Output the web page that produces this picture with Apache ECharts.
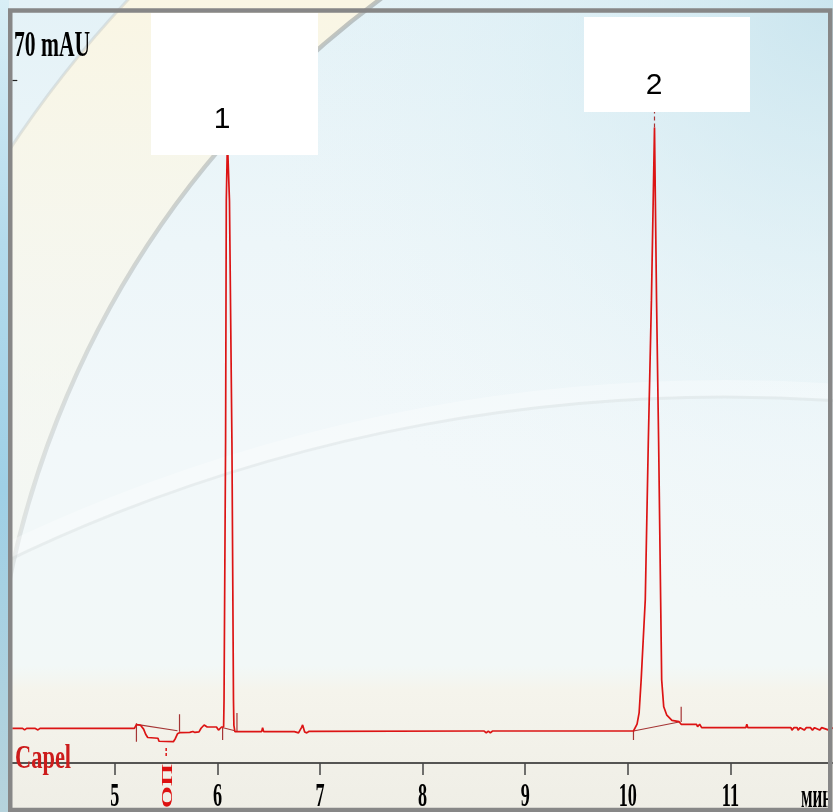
<!DOCTYPE html>
<html>
<head>
<meta charset="utf-8">
<script src="https://cdn.jsdelivr.net/npm/echarts@6/dist/echarts.min.js"></script>
<style>
  html, body { margin: 0; padding: 0; background: #ffffff; }
  #chart { width: 833px; height: 812px; }
</style>
</head>
<body>
<div id="chart"></div>
<script>
// Chromatogram trace: retention time (min) and detector signal (mAU)
const traceTime = [
  4.00, 4.03, 4.04, 4.06, 4.10, 4.12, 4.14, 4.19, 4.20, 4.22, 4.25, 4.27, 5.19,
  5.20, 5.21, 5.25, 5.28, 5.30, 5.32, 5.42, 5.43, 5.57, 5.59, 5.61, 5.63,
  5.73, 5.76, 5.78, 5.82, 5.84, 5.87, 5.90, 5.99, 6.01, 6.04, 6.06,
  6.064, 6.079, 6.086, 6.097, 6.117, 6.141, 6.156, 6.16, 6.17,
  6.43, 6.44, 6.45, 6.75, 6.76, 6.79, 6.82, 6.83, 6.85, 6.87, 6.89,
  8.57, 8.58, 8.60, 8.62, 8.64, 8.66, 8.68, 10.055,
  10.09, 10.11, 10.13, 10.17, 10.20, 10.23, 10.26, 10.28, 10.30, 10.32, 10.33,
  10.35, 10.38, 10.43, 10.50, 10.52, 10.67, 10.68, 10.70, 10.72,
  11.15, 11.16, 11.17, 11.59, 11.60, 11.62, 11.65, 11.66, 11.68, 11.72, 11.74,
  11.78, 11.80, 11.82, 11.87, 11.89, 11.96, 12.00
];
const traceSignal = [
  0.29, 0.29, 0.12, 0.29, 0.29, 0.12, 0.29, 0.29, 0.12, 0.29, 0.12, 0.29, 0.29,
  0.45, 0.68, 0.62, 0.20, -0.35, -0.70, -0.78, -1.10, -1.15, -0.80, -0.30, -0.18,
  -0.15, -0.05, -0.15, -0.10, 0.30, 0.65, 0.43, 0.43, 0.10, 0.43, 0.45,
  3.3, 31.0, 57.0, 63.5, 57.0, 31.0, 3.3, 0.60, -0.07,
  -0.07, 0.35, -0.07, -0.07, -0.20, -0.20, 0.40, 0.65, -0.10, -0.20, -0.05,
  0.00, -0.20, 0.00, -0.20, 0.00, -0.20, 0.00, 0.00,
  0.75, 1.94, 5.5, 14.1, 31.3, 46.3, 64.9, 46.3, 31.3, 14.1, 5.5,
  2.6, 1.7, 1.15, 1.0, 0.72, 0.72, 0.46, 0.72, 0.36,
  0.36, 0.72, 0.36, 0.36, 0.10, 0.36, 0.36, 0.10, 0.36, 0.10, 0.36,
  0.36, 0.10, 0.36, 0.10, 0.36, 0.10, 0.36
];

// Integration baselines drawn under the peaks
const intStartTime   = [5.21, 6.055, 10.055];
const intStartSignal = [0.72, 0.35, 0.00];
const intEndTime     = [5.61, 6.17, 10.50];
const intEndSignal   = [0.03, 0.03, 0.97];

// Peak start / end marks
const markTime   = [5.21, 5.63, 6.05, 6.19, 10.055, 10.52];
const markTop    = [0.83, 1.80, 0.43, 1.94, 0.00, 2.60];
const markBottom = [-1.15, -0.08, -0.97, 0.00, -0.97, 0.97];

// Numbered peaks
const peakNames   = ['1', '2'];
const peakTimes   = [6.097, 10.26];
const peakHeights = [63.5, 64.9];

// System peak marker (ОП)
const opTime = [5.50];
const opFrom = [-1.83];
const opTo   = [-2.90];

// Axis ticks
const xTickValues = [5, 6, 7, 8, 9, 10, 11];
const xTickLabels = ['5', '6', '7', '8', '9', '10', '11'];
const yTickValues = [70];
const yTickLabels = ['70 mAU'];

const chart = echarts.init(document.getElementById('chart'), null, { renderer: 'canvas', width: 833, height: 812 });

const RED = '#dc1414';
const DARK_RED = '#a53535';

const series = [{
  type: 'line',
  data: traceTime.map((t, i) => [t, traceSignal[i]]),
  symbol: 'none',
  lineStyle: { color: RED, width: 1.7 },
  z: 5,
  silent: true
}];
intStartTime.forEach((t, i) => {
  series.push({
    type: 'line', symbol: 'none', silent: true, z: 4,
    data: [[t, intStartSignal[i]], [intEndTime[i], intEndSignal[i]]],
    lineStyle: { color: DARK_RED, width: 1.2 }
  });
});
markTime.forEach((t, i) => {
  series.push({
    type: 'line', symbol: 'none', silent: true, z: 4,
    data: [[t, markTop[i]], [t, markBottom[i]]],
    lineStyle: { color: DARK_RED, width: 1.2 }
  });
});
peakTimes.forEach((t, i) => {
  series.push({
    type: 'line', symbol: 'none', silent: true, z: 4,
    data: [[t, peakHeights[i]], [t, 72]],
    lineStyle: { color: DARK_RED, width: 1.2, type: [4, 3] }
  });
});
opTime.forEach((t, i) => {
  series.push({
    type: 'line', symbol: 'none', silent: true, z: 4,
    data: [[t, opFrom[i]], [t, opTo[i]]],
    lineStyle: { color: RED, width: 1.5, type: [3, 2] }
  });
});

chart.setOption({
  animation: false,
  backgroundColor: 'transparent',
  grid: { left: 12.3, top: 13, width: 821.4, height: 750 },
  xAxis: {
    type: 'value', min: 4, max: 12,
    axisLine: { show: true, onZero: false, lineStyle: { color: '#222222', width: 1.5 } },
    axisTick: { show: true, customValues: xTickValues, length: 12, inside: false, lineStyle: { color: '#444444', width: 1.5 } },
    axisLabel: { show: false },
    splitLine: { show: false }
  },
  yAxis: {
    type: 'value', min: -3.44, max: 77.2,
    axisLine: { show: false },
    axisTick: { show: true, customValues: yTickValues, length: 5, inside: true, lineStyle: { color: '#222222', width: 1.2 } },
    axisLabel: { show: false },
    splitLine: { show: false }
  },
  series: series
});

// Text placed from the axis scales
const serif = '"Liberation Serif", "Times New Roman", serif';
const graphics = [];

// Background wash
graphics.push({
  type: 'rect', z: -20, silent: true,
  shape: { x: 0, y: 0, width: 833, height: 812 },
  style: {
    fill: {
      type: 'linear', x: 0, y: 0, x2: 0, y2: 812, global: true,
      colorStops: [
        { offset: 0, color: '#e4f2f7' },
        { offset: 0.3, color: '#edf6f9' },
        { offset: 0.55, color: '#f2f8fa' },
        { offset: 0.82, color: '#f2f8f7' },
        { offset: 0.85, color: '#f5f4ec' },
        { offset: 1, color: '#efeee6' }
      ]
    }
  }
});
graphics.push({
  type: 'rect', z: -19, silent: true,
  shape: { x: 0, y: 0, width: 833, height: 812 },
  style: {
    fill: {
      type: 'radial', x: 833, y: 0, r: 620, global: true,
      colorStops: [
        { offset: 0, color: 'rgba(198,227,237,0.85)' },
        { offset: 0.5, color: 'rgba(214,236,243,0.35)' },
        { offset: 1, color: 'rgba(235,245,248,0)' }
      ]
    }
  }
});
// Cream wedge between the two large arcs
graphics.push({
  type: 'ring', z: -18, silent: true,
  shape: { cx: 952, cy: 773, r: 1130, r0: 962 },
  style: {
    fill: {
      type: 'linear', x: 0, y: 0, x2: 0, y2: 640, global: true,
      colorStops: [
        { offset: 0, color: 'rgba(250,246,228,1)' },
        { offset: 0.5, color: 'rgba(248,247,236,0.7)' },
        { offset: 1, color: 'rgba(244,246,238,0.4)' }
      ]
    }
  }
});
graphics.push({
  type: 'circle', z: -17, silent: true,
  shape: { cx: 952, cy: 773, r: 1130 },
  style: { fill: 'none', stroke: 'rgba(180,186,186,0.35)', lineWidth: 3 }
});
graphics.push({
  type: 'circle', z: -17, silent: true,
  shape: { cx: 952, cy: 773, r: 962 },
  style: {
    fill: 'none', lineWidth: 4.5,
    stroke: {
      type: 'linear', x: 0, y: 0, x2: 0, y2: 600, global: true,
      colorStops: [
        { offset: 0, color: 'rgba(160,166,166,0.65)' },
        { offset: 0.4, color: 'rgba(170,176,176,0.5)' },
        { offset: 1, color: 'rgba(185,190,190,0.3)' }
      ]
    }
  }
});
// Soft light band across the middle
graphics.push({
  type: 'circle', z: -17, silent: true,
  shape: { cx: 725, cy: 2052, r: 1664 },
  style: { fill: 'none', stroke: 'rgba(255,255,255,0.3)', lineWidth: 16 }
});
graphics.push({
  type: 'circle', z: -16, silent: true,
  shape: { cx: 725, cy: 2052, r: 1655 },
  style: { fill: 'none', stroke: 'rgba(212,218,218,0.35)', lineWidth: 3 }
});
// Left edge strip
graphics.push({
  type: 'rect', z: -15, silent: true,
  shape: { x: 0, y: 0, width: 9, height: 812 },
  style: {
    fill: {
      type: 'linear', x: 0, y: 0, x2: 0, y2: 812, global: true,
      colorStops: [
        { offset: 0, color: '#d8eef6' },
        { offset: 0.3, color: '#b4dbec' },
        { offset: 0.6, color: '#9fd0e6' },
        { offset: 1, color: '#b6d3dc' }
      ]
    }
  }
});

// Peak label boxes
const peakBoxes = [
  { x: 151, y: 13, w: 167, h: 142, lx: 222, ly: 120 },
  { x: 584, y: 17, w: 166, h: 95, lx: 654, ly: 86 }
];
peakBoxes.forEach((b, i) => {
  graphics.push({
    type: 'rect', z: 40, silent: true,
    shape: { x: b.x, y: b.y, width: b.w, height: b.h },
    style: { fill: '#ffffff' }
  });
  graphics.push({
    type: 'text', z: 41, silent: true, x: b.lx, y: b.ly,
    style: {
      text: peakNames[i], x: 0, y: 0,
      fill: '#000000', fontSize: 30, fontFamily: '"Liberation Sans", Arial, sans-serif',
      align: 'center', verticalAlign: 'middle', textAlign: 'center', textVerticalAlign: 'middle'
    }
  });
});

// X tick labels
xTickValues.forEach((v, i) => {
  const px = chart.convertToPixel({ xAxisIndex: 0 }, v);
  graphics.push({
    type: 'text', z: 30, silent: true, x: px, y: 797, scaleX: 0.55,
    style: {
      text: xTickLabels[i], x: 0, y: 0, fill: '#000000',
      fontSize: 33, fontWeight: 'bold', fontFamily: serif,
      align: 'center', verticalAlign: 'middle', textAlign: 'center', textVerticalAlign: 'middle'
    }
  });
});
// X axis unit
graphics.push({
  type: 'text', z: 30, silent: true, x: 801, y: 798, scaleX: 0.5,
  style: {
    text: 'мин', x: 0, y: 0, fill: '#000000',
    fontSize: 34, fontWeight: 'bold', fontFamily: serif,
    align: 'left', verticalAlign: 'middle', textAlign: 'left', textVerticalAlign: 'middle'
  }
});
// Y tick label
yTickValues.forEach((v, i) => {
  const py = chart.convertToPixel({ yAxisIndex: 0 }, v);
  graphics.push({
    type: 'text', z: 30, silent: true, x: 14, y: py - 33, scaleX: 0.6,
    style: {
      text: yTickLabels[i], x: 0, y: 0, fill: '#000000',
      fontSize: 36, fontWeight: 'bold', fontFamily: serif,
      align: 'left', verticalAlign: 'middle', textAlign: 'left', textVerticalAlign: 'middle'
    }
  });
});
// Trace name
graphics.push({
  type: 'text', z: 30, silent: true, x: 15, y: 759, scaleX: 0.68,
  style: {
    text: 'Capel', x: 0, y: 0, fill: '#cc1c1c',
    fontSize: 33, fontWeight: 'bold', fontFamily: serif,
    align: 'left', verticalAlign: 'middle', textAlign: 'left', textVerticalAlign: 'middle'
  }
});
// System peak label, written upward
opTime.forEach((t) => {
  const px = chart.convertToPixel({ xAxisIndex: 0 }, t);
  graphics.push({
    type: 'text', z: 30, silent: true, x: px + 2, y: 786, rotation: Math.PI / 2, scaleX: 1.9,
    style: {
      text: 'ОП', x: 0, y: 0, fill: '#dd1111',
      fontSize: 15, fontWeight: 'bold', fontFamily: serif,
      align: 'center', verticalAlign: 'middle', textAlign: 'center', textVerticalAlign: 'middle'
    }
  });
});

// Frame
graphics.push({
  type: 'rect', z: 60, silent: true,
  shape: { x: 10.25, y: 10.5, width: 820, height: 799.5 },
  style: { fill: 'none', stroke: '#878787', lineWidth: 4.5 }
});

chart.setOption({ graphic: { elements: graphics } });
</script>
</body>
</html>
